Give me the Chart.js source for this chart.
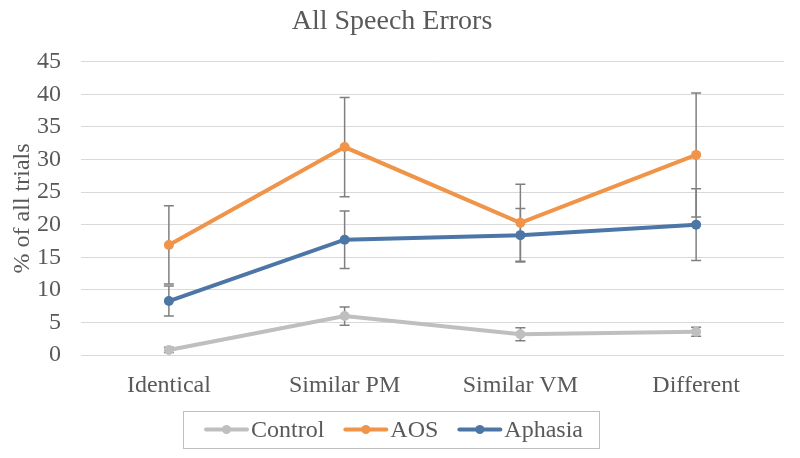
<!DOCTYPE html>
<html>
<head>
<meta charset="utf-8">
<script src="https://cdn.jsdelivr.net/npm/chart.js@4.4.0/dist/chart.umd.min.js"></script>
<style>
  html, body { margin: 0; padding: 0; background: #fff; }
  #wrap { width: 800px; height: 458px; }
</style>
</head>
<body>
<div id="wrap"><canvas id="speech-errors-chart"></canvas></div>
<script>
const categories = ['Identical', 'Similar PM', 'Similar VM', 'Different'];

const controlValues = [0.8, 6.0, 3.2, 3.6];
const aosValues = [16.9, 31.9, 20.3, 30.7];
const aphasiaValues = [8.3, 17.7, 18.4, 20.0];

// +/- error for each point
const controlErrors = [0.4, 1.4, 1.0, 0.7];
const aosErrors = [6.0, 7.6, 5.9, 9.5];
const aphasiaErrors = [2.3, 4.4, 4.1, 5.5];

const yTicks = [0, 5, 10, 15, 20, 25, 30, 35, 40, 45];

const textColor = '#595959';
const fontFamily = '"Liberation Serif", "Times New Roman", serif';

// error bars sit under the markers
const errorBars = {
  id: 'errorBars',
  beforeDatasetsDraw(chart) {
    const ctx = chart.ctx;
    const yScale = chart.scales.y;
    ctx.save();
    ctx.strokeStyle = '#808080';
    ctx.lineWidth = 1.5;
    chart.data.datasets.forEach((ds, i) => {
      const meta = chart.getDatasetMeta(i);
      meta.data.forEach((pt, j) => {
        const err = ds.errors[j];
        const yTop = yScale.getPixelForValue(ds.data[j] + err);
        const yBot = yScale.getPixelForValue(ds.data[j] - err);
        const x = pt.x;
        ctx.beginPath();
        ctx.moveTo(x, yTop); ctx.lineTo(x, yBot);
        ctx.moveTo(x - 5, yTop); ctx.lineTo(x + 5, yTop);
        ctx.moveTo(x - 5, yBot); ctx.lineTo(x + 5, yBot);
        ctx.stroke();
      });
    });
    ctx.restore();
  }
};

// Excel-style legend: line+marker icon, boxed, below the axis
const boxedLegend = {
  id: 'boxedLegend',
  afterDraw(chart) {
    const ctx = chart.ctx;
    const iconW = 45, iconGap = 2, itemGap = 19, padL = 21, padR = 16;
    const top = 411, bottom = 448, midY = (top + bottom) / 2;
    ctx.save();
    ctx.font = '24px ' + fontFamily;
    const items = chart.data.datasets.map(ds => ({ ds, w: ctx.measureText(ds.label).width }));
    let total = padL + padR;
    items.forEach((it, i) => { total += iconW + iconGap + it.w + (i ? itemGap : 0); });
    const left = Math.round(chart.width / 2 - 9 - total / 2);
    ctx.strokeStyle = '#bfbfbf';
    ctx.lineWidth = 1;
    ctx.strokeRect(left + 0.5, top + 0.5, Math.round(total), bottom - top);
    let x = left + padL;
    items.forEach((it, i) => {
      if (i) x += itemGap;
      const c = it.ds.borderColor;
      ctx.strokeStyle = c;
      ctx.lineWidth = 4;
      ctx.lineCap = 'round';
      ctx.beginPath();
      ctx.moveTo(x + 2, midY);
      ctx.lineTo(x + iconW - 2, midY);
      ctx.stroke();
      ctx.fillStyle = c;
      ctx.beginPath();
      ctx.arc(x + iconW / 2, midY, 4.5, 0, Math.PI * 2);
      ctx.fill();
      x += iconW + iconGap;
      ctx.fillStyle = textColor;
      ctx.textBaseline = 'middle';
      ctx.textAlign = 'left';
      ctx.fillText(it.ds.label, x, midY + 1);
      x += it.w;
    });
    ctx.restore();
  }
};

function series(label, data, errors, color) {
  return {
    label: label,
    data: data,
    errors: errors,
    borderColor: color,
    backgroundColor: color,
    borderWidth: 4,
    pointRadius: 5,
    pointHoverRadius: 5,
    pointBorderWidth: 0,
    tension: 0
  };
}

const speechErrorsChart = new Chart(document.getElementById('speech-errors-chart'), {
  type: 'line',
  data: {
    labels: categories,
    datasets: [
      series('Control', controlValues, controlErrors, '#bfbfbf'),
      series('AOS', aosValues, aosErrors, '#ef9448'),
      series('Aphasia', aphasiaValues, aphasiaErrors, '#4c76a6')
    ]
  },
  options: {
    responsive: true,
    maintainAspectRatio: false,
    animation: false,
    layout: { padding: { left: 0, right: 16, top: 0, bottom: 50 } },
    plugins: {
      title: {
        display: true,
        text: 'All Speech Errors',
        color: textColor,
        font: { family: fontFamily, size: 28, weight: 'normal' },
        padding: { top: 5, bottom: 23 }
      },
      legend: { display: false },
      tooltip: { enabled: false }
    },
    scales: {
      x: {
        offset: true,
        grid: { display: false },
        border: { display: false },
        ticks: {
          color: textColor,
          font: { family: fontFamily, size: 24 },
          padding: 8
        }
      },
      y: {
        min: 0,
        max: 45,
        afterBuildTicks(axis) {
          axis.ticks = yTicks.map(v => ({ value: v }));
        },
        afterFit(axis) {
          axis.width = 81;
        },
        grid: { color: '#d9d9d9', lineWidth: 1, drawTicks: false },
        border: { display: false },
        ticks: {
          color: textColor,
          font: { family: fontFamily, size: 24 },
          padding: 20
        },
        title: {
          display: true,
          text: '% of all trials',
          color: textColor,
          font: { family: fontFamily, size: 24 },
          padding: { top: 8, bottom: 0 }
        }
      }
    }
  },
  plugins: [errorBars, boxedLegend]
});
</script>
</body>
</html>
